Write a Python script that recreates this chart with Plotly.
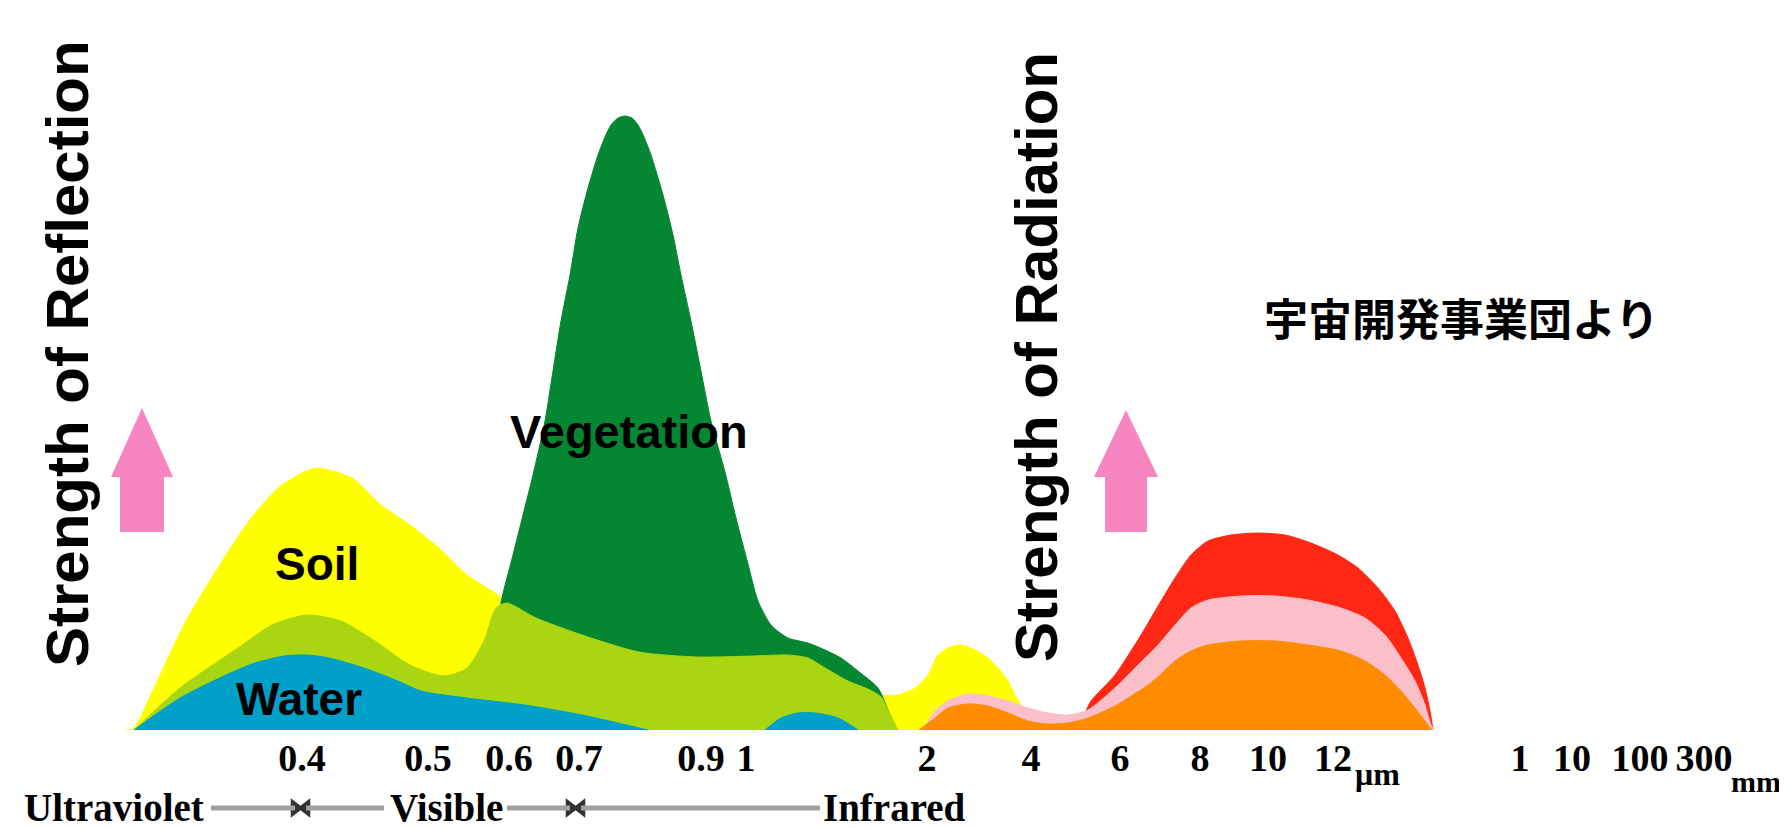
import plotly.graph_objects as go

# ---------------- data (schematic position along wavelength axis, relative strength) -------------
soil_x = [118, 126, 146, 178, 218, 241, 270, 298, 310, 344, 373, 402, 431, 459, 494, 530, 600, 700,
          800, 850, 873, 890, 907, 920, 930, 940, 953, 967, 980, 990, 1000, 1007, 1013, 1025, 1035]
soil_y = [0, 2, 42, 109, 175, 209, 242, 259, 262, 252, 225, 205, 182, 155, 132, 95, 60, 40,
          36, 36, 35, 35, 42, 55, 75, 82, 85, 80, 72, 62, 49, 35, 25, 10, 0]

veg_x = [470, 482, 494, 505, 515, 525, 537, 545, 553, 562, 570, 580, 590, 597, 603, 610, 617, 624,
         630, 636, 643, 655, 665, 673, 683, 693, 703, 717, 728, 740, 750, 763, 780, 800, 817, 833,
         850, 870, 878, 888]
veg_y = [0, 60, 132, 175, 215, 255, 309, 359, 409, 455, 502, 542, 575, 593, 605, 612, 614, 612,
         605, 593, 575, 535, 495, 455, 409, 359, 309, 258, 212, 166, 129, 105, 92, 87, 80, 72,
         59, 42, 25, 0]

mix_x = [126, 172, 230, 264, 299, 333, 367, 402, 436, 459, 476, 488, 499, 528, 574, 631, 689, 746,
         780, 800, 817, 840, 862, 873, 880, 890]
mix_y = [0, 42, 82, 105, 115, 109, 89, 65, 54, 62, 89, 122, 127, 112, 95, 78, 73, 74,
         75, 72, 62, 49, 40, 33, 20, 0]

water_x = [126, 172, 218, 247, 276, 299, 321, 356, 390, 413, 459, 517, 574, 610, 631, 640]
water_y = [0, 32, 55, 67, 74, 75, 72, 62, 49, 39, 32, 25, 15, 7, 2, 0]
water2_x = [757, 773, 790, 807, 830, 850]
water2_y = [0, 12, 17, 17, 12, 0]

red_x = [1060, 1075, 1083, 1107, 1133, 1153, 1167, 1183, 1200, 1223, 1250, 1277, 1303, 1330, 1350,
         1370, 1387, 1400, 1410, 1417, 1422, 1425]
red_y = [0, 14, 29, 55, 95, 129, 152, 175, 189, 195, 197, 195, 187, 175, 162,
         142, 119, 92, 65, 42, 19, 0]

pink_x = [912, 918, 927, 940, 960, 980, 1000, 1020, 1040, 1060, 1080, 1107, 1130, 1150, 1167, 1183,
          1200, 1233, 1267, 1300, 1333, 1357, 1377, 1393, 1407, 1417, 1423, 1426]
pink_y = [0, 6, 19, 29, 36, 34, 29, 22, 17, 15, 20, 42, 65, 85, 105, 122,
          130, 134, 134, 130, 122, 112, 95, 72, 49, 25, 5, 0]

orange_x = [911, 927, 940, 960, 980, 1000, 1020, 1040, 1060, 1080, 1107, 1140, 1150, 1167, 1183,
            1200, 1233, 1267, 1300, 1333, 1357, 1377, 1393, 1407, 1417, 1424]
orange_y = [0, 12, 22, 26, 24, 17, 9, 6, 7, 12, 24, 45, 53, 69, 79,
            85, 89, 89, 85, 79, 69, 55, 39, 22, 9, 0]

tick_pos = [294, 420, 501, 571, 693, 738, 919, 1023, 1112, 1192, 1260, 1325, 1512, 1564, 1632, 1696]
tick_text = ["0.4", "0.5", "0.6", "0.7", "0.9", "1", "2", "4", "6", "8", "10", "12",
             "1", "10", "100", "300"]

band_names = ["Ultraviolet", "Visible", "Infrared"]
band_pos = [106, 438, 886]
band_bounds = [287, 298, 562, 573]  # 0.4 and 0.7 µm boundary markers

W, H = 1787, 828
BASE = 106  # space below the baseline

C_YELLOW = "#ffff00"
C_DGREEN = "#048632"
C_LGREEN = "#a9d511"
C_BLUE = "#00a0c8"
C_RED = "#fe2814"
C_PINK = "#fabfc8"
C_ORANGE = "#ff8c00"
C_ARROW = "#f785c0"

fig = go.Figure()


def area(x, y, color):
    fig.add_trace(go.Scatter(
        x=x, y=y, mode="lines",
        line=dict(color=color, width=1, shape="spline", smoothing=0.7),
        fill="tozeroy", fillcolor=color, hoverinfo="skip", showlegend=False))


area(soil_x, soil_y, C_YELLOW)
area(veg_x, veg_y, C_DGREEN)
area(mix_x, mix_y, C_LGREEN)
area(water_x, water_y, C_BLUE)
area(water2_x, water2_y, C_BLUE)
area(red_x, red_y, C_RED)
area(pink_x, pink_y, C_PINK)
area(orange_x, orange_y, C_ORANGE)

# boundary markers in the band row
fig.add_trace(go.Scatter(
    x=[band_bounds[0], band_bounds[2]], y=[-78, -78], mode="markers",
    marker=dict(symbol="triangle-right", size=17, color="#333333"),
    hoverinfo="skip", showlegend=False))
fig.add_trace(go.Scatter(
    x=[band_bounds[1], band_bounds[3]], y=[-78, -78], mode="markers",
    marker=dict(symbol="triangle-left", size=17, color="#333333"),
    hoverinfo="skip", showlegend=False))

shapes = []
# grey connector lines between band names
for x0, x1 in [(203, band_bounds[0]), (band_bounds[1], 376), (499, band_bounds[2]), (band_bounds[3], 812)]:
    shapes.append(dict(type="line", xref="x", yref="y", x0=x0, x1=x1, y0=-78, y1=-78,
                       line=dict(color="#a0a0a0", width=5)))


def up_arrow(cx, hw, sw, tip, neck, bottom):
    return dict(type="path", xref="x", yref="y", fillcolor=C_ARROW, line=dict(width=0),
                path=f"M {cx} {tip} L {cx + hw} {neck} L {cx + sw} {neck} L {cx + sw} {bottom} "
                     f"L {cx - sw} {bottom} L {cx - sw} {neck} L {cx - hw} {neck} Z")


shapes.append(up_arrow(134, 31, 22, 322, 253, 198))
shapes.append(up_arrow(1118, 32, 21, 320, 253, 198))

sans = "Liberation Sans, Arial, sans-serif"
serif = "Liberation Serif, Times New Roman, serif"
ann = []
ann.append(dict(x=59, y=376, text="Strength of Reflection", textangle=-90, showarrow=False,
                font=dict(family=sans, size=60, color="black", weight="bold")))
ann.append(dict(x=1028, y=373, text="Strength of Radiation", textangle=-90, showarrow=False,
                font=dict(family=sans, size=60, color="black", weight="bold")))
ann.append(dict(x=621, y=299, text="<b>Vegetation</b>", showarrow=False,
                font=dict(family=sans, size=47, color="black")))
ann.append(dict(x=309, y=166, text="<b>Soil</b>", showarrow=False,
                font=dict(family=sans, size=46, color="black")))
ann.append(dict(x=291, y=31, text="<b>Water</b>", showarrow=False,
                font=dict(family=sans, size=46, color="black")))
ann.append(dict(x=1453, y=413, text="宇宙開発事業団より", showarrow=False,
                font=dict(family="Noto Sans CJK JP", size=44, color="black", weight="bold")))
for name, pos in zip(band_names, band_pos):
    ann.append(dict(x=pos, y=-77, text=f"<b>{name}</b>", showarrow=False,
                    font=dict(family=serif, size=39, color="black")))
ann.append(dict(x=1369, y=-44, text="μm", showarrow=False,
                font=dict(family=serif, size=32, color="black", weight="bold")))
ann.append(dict(x=1748, y=-51, text="mm", showarrow=False,
                font=dict(family=serif, size=30, color="black", weight="bold")))

fig.update_layout(
    width=W, height=H,
    margin=dict(l=0, r=0, t=0, b=0),
    paper_bgcolor="white", plot_bgcolor="white",
    shapes=shapes, annotations=ann,
    xaxis=dict(range=[0, W], showgrid=False, zeroline=False, showline=False,
               anchor="free", position=(BASE + 12) / H,
               tickmode="array", tickvals=tick_pos, ticktext=tick_text,
               ticks="outside", ticklen=6, tickcolor="rgba(0,0,0,0)",
               tickfont=dict(family=serif, size=38, color="black", weight="bold"), tickangle=0),
    yaxis=dict(range=[-BASE, H - BASE], visible=False, showgrid=False, zeroline=False),
)

fig.write_html("out.html")
